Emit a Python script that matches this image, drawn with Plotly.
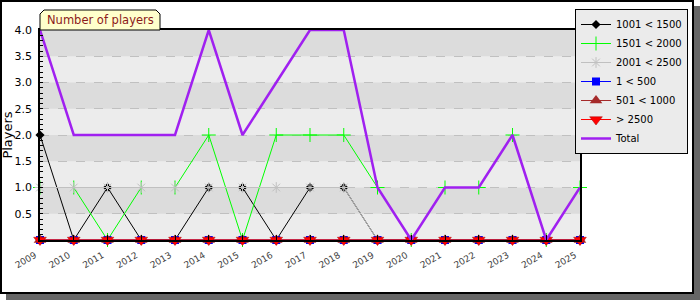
import plotly.graph_objects as go

years = list(range(2009, 2026))
s_1001_1500 = [2, 0, 1, 0, 0, 1, 1, 0, 1, 1, 0, 0, 0, 0, 0, 0, 0]
s_1501_2000 = [1, 1, 0, 1, 1, 2, 0, 2, 2, 2, 1, 0, 1, 1, 2, 0, 1]
s_2001_2500 = [1, 1, 1, 1, 1, 1, 1, 1, 1, 1, 0, 0, 0, 0, 0, 0, 0]
s_1_500 = [0] * 17
s_501_1000 = [0] * 17
s_2500_plus = [0] * 17
total = [4, 2, 2, 2, 2, 4, 2, 3, 4, 4, 1, 0, 1, 1, 2, 0, 1]

y_ticks = [0.5, 1.0, 1.5, 2.0, 2.5, 3.0, 3.5, 4.0]

FONT = "DejaVu Sans"
W, H = 700, 300
L, R, T, B = 40, 580, 30, 240


def px(x):
    return (x - L) / (R - L)


def py(y):
    return (B - y) / (B - T)


fig = go.Figure()

series = [
    ("1001 < 1500", s_1001_1500, dict(color="black", width=1),
     dict(symbol="diamond", size=7, color="black")),
    ("1501 < 2000", s_1501_2000, dict(color="#00ff00", width=1),
     dict(symbol="cross-thin", size=10, line=dict(color="#00ff00", width=1))),
    ("2001 < 2500", s_2001_2500, dict(color="#c0c0c0", width=1),
     dict(symbol="asterisk", size=9, line=dict(color="#c0c0c0", width=1))),
    ("1 < 500", s_1_500, dict(color="#0000ff", width=1),
     dict(symbol="square", size=8, color="#0000ff")),
    ("501 < 1000", s_501_1000, dict(color="#a52a2a", width=1),
     dict(symbol="triangle-up", size=11, color="#a52a2a")),
    ("> 2500", s_2500_plus, dict(color="#ff0000", width=1),
     dict(symbol="triangle-down", size=11, color="#ff0000",
          line=dict(color="#aa0000", width=0.5))),
]

for name, vals, ln, mk in series:
    fig.add_trace(go.Scatter(x=years, y=vals, name=name, mode="lines+markers",
                             line=ln, marker=mk, cliponaxis=False))

fig.add_trace(go.Scatter(x=years, y=total, name="Total", mode="lines",
                         line=dict(color="#a020f0", width=2.5), cliponaxis=False))

shapes = []
# chart shadow and frame
shapes.append(dict(type="rect", xref="paper", yref="paper", x0=px(693), x1=px(700),
                   y0=py(6), y1=py(300), fillcolor="#666666", line=dict(width=0), layer="below"))
shapes.append(dict(type="rect", xref="paper", yref="paper", x0=px(6), x1=px(700),
                   y0=py(293), y1=py(300), fillcolor="#666666", line=dict(width=0), layer="below"))
shapes.append(dict(type="rect", xref="paper", yref="paper", x0=px(1), x1=px(693),
                   y0=py(1), y1=py(293), fillcolor="rgba(0,0,0,0)",
                   line=dict(color="black", width=2), layer="above"))
# alternating bands
for i in range(4):
    lo = 0.5 + i * 1.0
    shapes.append(dict(type="rect", xref="paper", yref="y", x0=0, x1=1, y0=lo, y1=lo + 0.5,
                       fillcolor="#dcdcdc", line=dict(width=0), layer="below"))
# legend shadow
shapes.append(dict(type="rect", xref="paper", yref="paper", x0=px(581), x1=px(686),
                   y0=py(15), y1=py(152), fillcolor="#d8d8d8", line=dict(width=0), layer="above"))
# title tab
tx0, tx1, ty0, ty1, c = 40, 160, 10, 30, 4
path = "M {a},{b} L {a},{c1} L {a2},{d} L {e2},{d} L {e},{c1} L {e},{b} Z".format(
    a=px(tx0), b=py(ty1), c1=py(ty0 + c), a2=px(tx0 + c), d=py(ty0),
    e2=px(tx1 - c), e=px(tx1))
shapes.append(dict(type="path", xref="paper", yref="paper", path=path,
                   fillcolor="#ffffcc", line=dict(color="black", width=1), layer="above"))

fig.update_layout(
    width=W, height=H,
    margin=dict(l=L, r=W - R, t=T, b=H - B, pad=0, autoexpand=False),
    paper_bgcolor="white",
    plot_bgcolor="#ececec",
    font=dict(family=FONT, size=11, color="black"),
    shapes=shapes,
    showlegend=True,
    legend=dict(x=px(575), y=py(9), xanchor="left", yanchor="top",
                bgcolor="#ebebeb", bordercolor="black", borderwidth=1,
                font=dict(family=FONT, size=10, color="black"),
                traceorder="normal", itemwidth=30, tracegroupgap=0),
    annotations=[dict(text="Number of players", xref="paper", yref="paper",
                      x=px(100), y=py(20), xanchor="center", yanchor="middle",
                      showarrow=False, font=dict(family=FONT, size=11.5, color="#8b1a1a"))],
)

fig.update_xaxes(range=[2009, 2025], tickvals=years, ticktext=[str(y) for y in years],
                 tickangle=-30, tickfont=dict(family=FONT, size=9, color="#444444"),
                 ticks="inside", ticklen=5, tickcolor="black",
                 ticklabelshift=-5, ticklabelstandoff=5, automargin=False,
                 showgrid=False, zeroline=False, showline=True, linecolor="black",
                 linewidth=1.5, mirror=True)
fig.update_yaxes(range=[0, 4], tickvals=y_ticks, tickformat=".1f",
                 tickfont=dict(family=FONT, size=11, color="black"),
                 ticks="inside", ticklen=3, tickcolor="black", ticklabelstandoff=4,
                 minor=dict(dtick=0.1, ticks="inside", ticklen=3, tickcolor="black", showgrid=False),
                 showgrid=True, gridcolor="#c0c0c0", griddash="dash", gridwidth=1,
                 zeroline=False, showline=True, linecolor="black", linewidth=1.5, mirror=True,
                 automargin=False,
                 title=dict(text="Players", font=dict(family=FONT, size=13), standoff=0))

fig.write_html("out.html")
